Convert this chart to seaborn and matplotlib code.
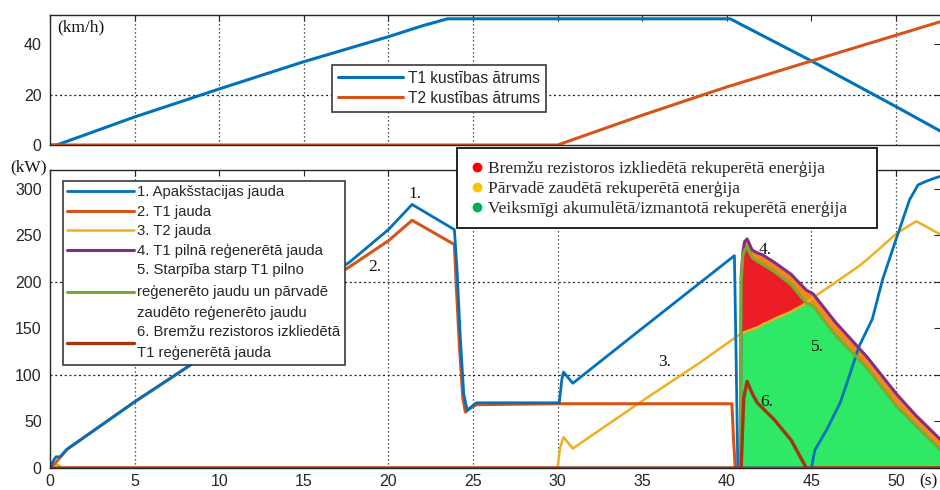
import numpy as np
import matplotlib
matplotlib.use("Agg")
import matplotlib.pyplot as plt
import seaborn as sns
from matplotlib.lines import Line2D
from matplotlib.patches import Rectangle

# ---------------- data: top panel, speed (km/h) ----------------
t_speed1 = [0, 0.4, 5, 10, 15, 20, 22, 23.5, 40.2, 45, 50, 52.6]
speed1 = [0, 0, 11.1, 22.2, 33, 42.9, 47.2, 50, 50, 33.3, 15.2, 5.6]
t_speed2 = [0, 30, 35, 40, 45, 50, 52.6]
speed2 = [0, 0, 11.8, 23, 33.3, 43.5, 48.8]

# ---------------- data: bottom panel, power (kW) ----------------
t_p1 = [0, 0.2, 0.35, 0.6, 1.0, 5, 8.5, 17.7, 20, 21.4, 23.9, 24.05, 24.25, 24.45,
        24.65, 25.2, 30.1, 30.25, 30.35, 30.9, 35, 40.45, 40.55, 40.65, 45.0, 45.2,
        45.9, 46.7, 47.3, 47.8, 48.6, 49.2, 50.05, 50.8, 51.3, 51.8, 52.4, 52.6]
p1 = [0, 8, 12, 12, 20, 71, 113, 221, 256, 283, 256, 215, 140, 80,
      62, 70, 70, 95, 103, 91, 150, 228, 120, 0, 0, 19,
      41, 70, 102, 130, 160, 202, 248, 288, 304, 308, 312, 313]

t_p2 = [0, 0.3, 1.0, 5, 8.5, 17.7, 20, 21.4, 23.9, 24.0, 24.2, 24.4, 24.55, 24.75,
        25.2, 30, 35, 40.3, 40.4, 40.5, 52.6]
p2 = [0, 5, 20, 71, 113, 216, 244, 266, 240, 200, 130, 75, 60, 63,
      68, 69, 69, 69, 30, 0, 0]

# regenerative-braking phase, common time grid
t_reg = [40.8, 40.85, 40.95, 41.05, 41.2, 41.35, 41.5, 41.8, 42.1, 42.8, 43.8,
         44.7, 45.1, 46.4, 47.9, 48.3, 50.05, 51.2, 52.6]
p4_full = [0, 205, 232, 243, 246, 240, 234, 231, 229, 221, 208,
           191, 187, 157, 127, 119, 79, 56, 31]
p5_diff = [0, 200, 228, 234, 237, 231, 226, 222, 219, 211, 197,
           177, 174, 143, 115, 107, 66, 45, 20]
p3_reg = [144, 144.5, 145, 146, 147, 148, 149, 151, 154, 160, 168,
          177, 183, 199, 218, 224, 252, 265, 251]
t_p3_pre = [0, 0.2, 0.5, 0.7, 30.0, 30.15, 30.35, 30.9, 35.0, 38.4]
p3_pre = [0, 4, 3, 0, 0, 22, 33, 21, 72, 113]

t_p6 = [0, 40.85, 41.0, 41.2, 41.5, 41.8, 42.8, 43.8, 44.7, 52.6]
p6 = [0, 0, 75, 93, 80, 70, 52, 30, 0, 0]

x_ticks = [0, 5, 10, 15, 20, 25, 30, 35, 40, 45, 50]
speed_ticks = [0, 20, 40]
power_ticks = [0, 50, 100, 150, 200, 250, 300]

labels_speed = ["T1 kustības ātrums", "T2 kustības ātrums"]
labels_power = ["1. Apakšstacijas jauda", "2. T1 jauda", "3. T2 jauda",
                "4. T1 pilnā reģenerētā jauda",
                "5. Starpība starp T1 pilno\nreģenerēto jaudu un pārvadē\nzaudēto reģenerēto jaudu",
                "6. Bremžu rezistoros izkliedētā\nT1 reģenerētā jauda"]
labels_energy = ["Bremžu rezistoros izkliedētā rekuperētā enerģija",
                 "Pārvadē zaudētā rekuperētā enerģija",
                 "Veiksmīgi akumulētā/izmantotā rekuperētā enerģija"]
annotations = [("1.", 21.57, 294), ("2.", 19.2, 216), ("3.", 36.35, 114),
               ("4.", 42.25, 234), ("5.", 45.33, 130), ("6.", 42.38, 71)]

# ---------------- style ----------------
sns.set_style("white")
plt.rcParams["font.family"] = ["Liberation Sans", "DejaVu Sans"]
SERIF = ["Liberation Serif", "DejaVu Serif"]

C_BLUE = "#0072BD"
C_ORANGE = "#D95319"
C_YELLOW = "#EDB120"
C_PURPLE = "#7E2F8E"
C_GREEN = "#77AC30"
C_DRED = "#A33512"
TICKC = "#262626"

W, H = 940, 490
fig = plt.figure(figsize=(9.4, 4.9), dpi=100)
XMAX = (940 - 50) / 16.92

ax1 = fig.add_axes([50 / W, 1 - 145 / H, 890 / W, 130 / H])
ax2 = fig.add_axes([50 / W, 1 - 468 / H, 890 / W, 298 / H])


def draw(ax, t, v, color, lw=2.0, z=3):
    sns.lineplot(x=t, y=v, ax=ax, color=color, linewidth=lw, estimator=None,
                 sort=False, legend=False, zorder=z)
    return ax.lines[-1]


def style_axes(ax, ylim, yticks, grid_x, grid_y):
    ax.set_xlim(0, XMAX)
    ax.set_ylim(*ylim)
    ax.set_xticks(x_ticks)
    ax.set_yticks(yticks)
    ax.tick_params(direction="in", top=True, right=True, length=4, width=0.8,
                   color=TICKC, labelcolor=TICKC, labelsize=11.5, pad=6)
    for s in ["left", "top", "bottom"]:
        ax.spines[s].set_color(TICKC)
        ax.spines[s].set_linewidth(1.0)
        ax.spines[s].set_zorder(6)
    ax.spines["right"].set_visible(False)
    for gx in grid_x:
        ax.axvline(gx, color="#222222", lw=0.9, ls=(0, (1, 2.2)), zorder=1)
    for gy in grid_y:
        ax.axhline(gy, color="#222222", lw=0.9, ls=(0, (1.6, 2.2)), zorder=1)
    ax.set_xlabel("")
    ax.set_ylabel("")


# ---------------- top panel ----------------
h_s1 = draw(ax1, t_speed1, speed1, C_BLUE, 2.2)
h_s2 = draw(ax1, t_speed2, speed2, C_ORANGE, 2.2)
style_axes(ax1, (0, 51.5), speed_ticks, [5, 10, 15, 20, 25, 50], [20])
ax1.set_xticklabels([])
leg1 = ax1.legend([h_s1, h_s2], labels_speed, loc="upper left",
                  bbox_to_anchor=(332 / W, 1 - 65 / H), bbox_transform=fig.transFigure,
                  borderaxespad=0, fancybox=False, framealpha=1, edgecolor="#3a3a3a",
                  fontsize=11.2, handlelength=4.2, handletextpad=0.3, borderpad=0.38,
                  labelspacing=0.32)
leg1.get_frame().set_linewidth(1.2)

# ---------------- bottom panel ----------------
t3 = t_p3_pre + t_reg
p3 = p3_pre + p3_reg
a5 = np.array(p5_diff)
a3 = np.array(p3_reg)
a4 = np.array(p4_full)
ax2.fill_between(t_reg, 0, np.minimum(a3, a5), color="#2EE866", lw=0, zorder=2)
ax2.fill_between(t_reg, a3, a5, where=a5 >= a3, interpolate=True,
                 color="#EC1C24", lw=0, zorder=2)
ax2.fill_between(t_reg, a5, a4, color="#F7861E", lw=0, zorder=2)

h3 = draw(ax2, t3, p3, C_YELLOW, 1.8, 3)
h2 = draw(ax2, t_p2, p2, C_ORANGE, 2.2, 3)
h1 = draw(ax2, t_p1, p1, C_BLUE, 2.0, 4)
h4 = draw(ax2, t_reg, p4_full, C_PURPLE, 2.2, 4)
h5 = draw(ax2, t_reg, p5_diff, C_GREEN, 2.2, 4)
h6 = draw(ax2, t_p6, p6, C_DRED, 2.4, 5)

style_axes(ax2, (0, 320), power_ticks, [5, 20, 25, 30, 45, 50], [100, 200])
ax2.tick_params(axis="x", pad=4.5)

leg2 = ax2.legend([h1, h2, h3, h4, h5, h6], labels_power, loc="upper left",
                  bbox_to_anchor=(63 / W, 1 - 181 / H), bbox_transform=fig.transFigure,
                  borderaxespad=0, fancybox=False, framealpha=1, edgecolor="#3a3a3a",
                  fontsize=10.7, handlelength=4.5, handletextpad=0.2, borderpad=0.3,
                  labelspacing=0.36)
leg2.get_frame().set_linewidth(1.2)
leg2.set_zorder(10)
for t in leg2.get_texts():
    t.set_linespacing(1.58)

for txt, x, y in annotations:
    ax2.text(x, y, txt, family=SERIF, fontsize=12.5, ha="center", va="center",
             color="#111111", zorder=7)

# energy legend (figure level, manual frame)
fig.patches.append(Rectangle((457 / W, 1 - 228 / H), 420 / W, 80 / H,
                             transform=fig.transFigure, facecolor="white",
                             edgecolor="#111111", lw=1.3, zorder=20))
e_handles = [Line2D([], [], ls="", marker="o", markersize=6, color=c, mec=c)
             for c in ["#FF0000", "#FFC000", "#00B050"]]
leg3 = fig.legend(e_handles, labels_energy, loc="upper left",
                  bbox_to_anchor=(470 / W, 1 - 161 / H), borderaxespad=0,
                  frameon=False, prop={"family": SERIF, "size": 12.5},
                  handlelength=0.8, handletextpad=0.25, borderpad=0,
                  labelspacing=0.22)
leg3.set_zorder(21)

fig.text(57 / W, 1 - 27 / H, "(km/h)", family=SERIF, fontsize=12.5,
         ha="left", va="center", color="#111111")
fig.text(10 / W, 1 - 167 / H, "(kW)", family=SERIF, fontsize=12.5,
         ha="left", va="center", color="#111111")
fig.text(928 / W, 1 - 481 / H, "(s)", family=SERIF, fontsize=12.5,
         ha="center", va="center", color="#111111")

fig.savefig("out.png", dpi=100)
